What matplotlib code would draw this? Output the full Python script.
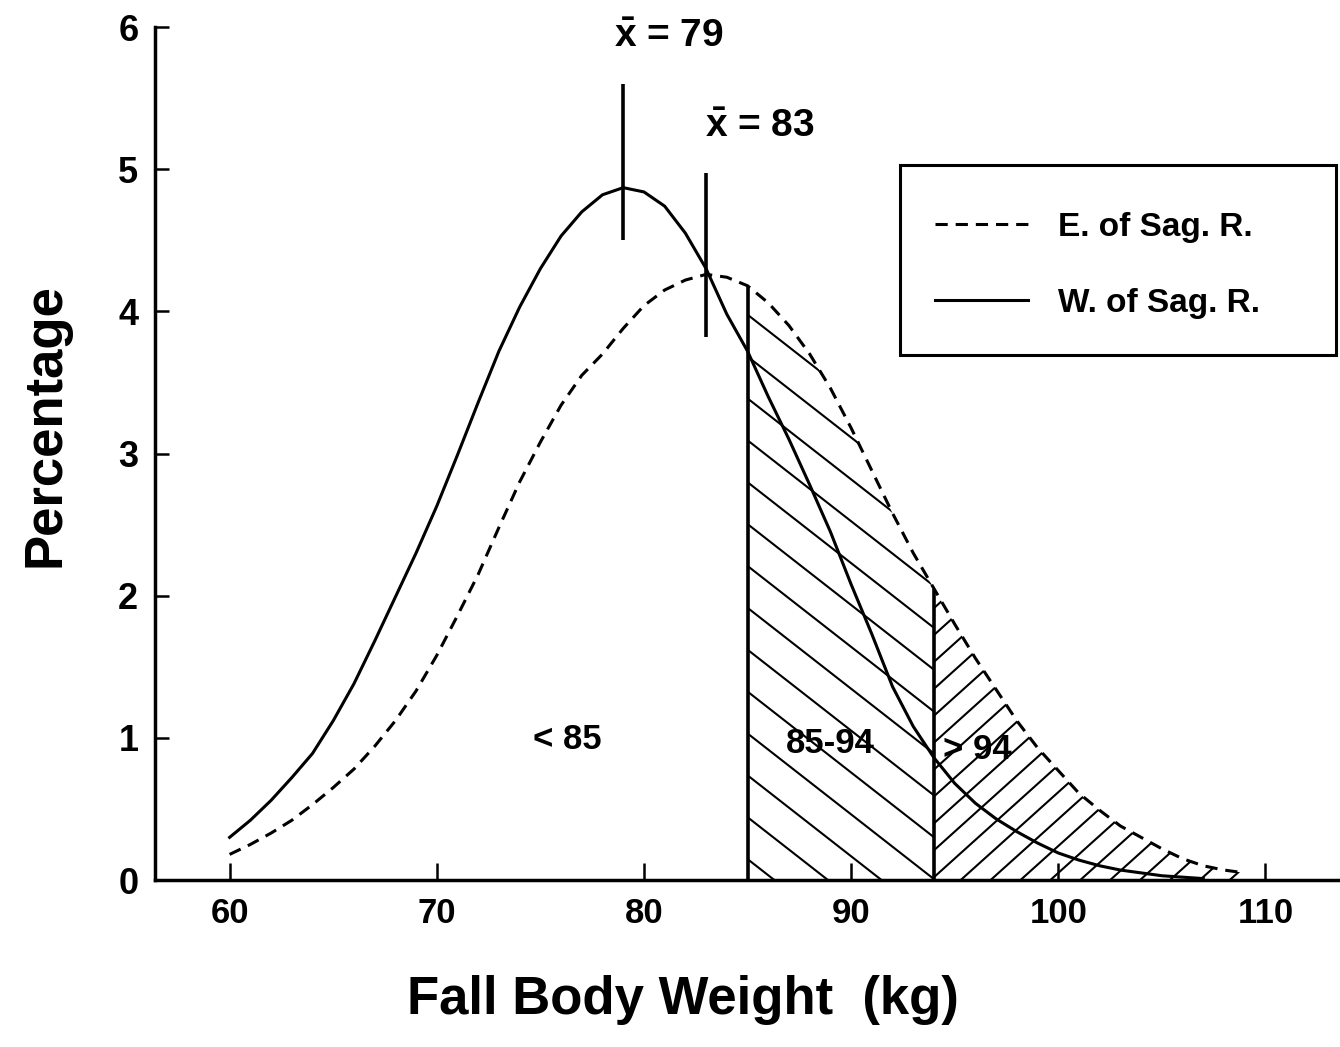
import matplotlib
matplotlib.use('Agg')
import matplotlib.pyplot as plt
import numpy as np
from matplotlib.patches import Rectangle

# Datos
weight_e = list(range(60, 110))
pct_e = [0.18, 0.25, 0.33, 0.42, 0.53, 0.65, 0.78, 0.94, 1.12, 1.33,
         1.58, 1.86, 2.15, 2.48, 2.80, 3.08, 3.34, 3.55, 3.70, 3.88,
         4.04, 4.15, 4.22, 4.26, 4.24, 4.18, 4.06, 3.90, 3.70, 3.46,
         3.18, 2.88, 2.58, 2.30, 2.05, 1.80, 1.56, 1.34, 1.12, 0.93,
         0.77, 0.61, 0.49, 0.38, 0.30, 0.22, 0.15, 0.10, 0.07, 0.05]

weight_w = list(range(60, 108))
pct_w = [0.30, 0.42, 0.56, 0.72, 0.89, 1.12, 1.38, 1.68, 1.99, 2.30,
         2.63, 2.99, 3.36, 3.72, 4.03, 4.30, 4.53, 4.70, 4.82, 4.87,
         4.84, 4.74, 4.55, 4.30, 3.98, 3.72, 3.40, 3.10, 2.78, 2.45,
         2.08, 1.73, 1.36, 1.08, 0.86, 0.68, 0.54, 0.43, 0.34, 0.26,
         0.19, 0.14, 0.10, 0.07, 0.05, 0.03, 0.02, 0.01]

labels = ['E. of Sag. R.', 'W. of Sag. R.']
means = [79, 83]
mean_marks = [(4.50, 5.60), (3.82, 4.97)]
mean_text_pos = [(81.2, 5.93), (85.6, 5.30)]
cuts = [85, 94]
region_labels = ['< 85', '85-94', '> 94']
region_pos = [(76.3, 0.99), (89.0, 0.96), (96.1, 0.92)]

plt.rcParams['font.family'] = ['Liberation Sans', 'DejaVu Sans']
plt.rcParams['font.weight'] = 'bold'
plt.rcParams['mathtext.fontset'] = 'custom'
plt.rcParams['mathtext.rm'] = 'Liberation Sans:bold'
plt.rcParams['mathtext.bf'] = 'Liberation Sans:bold'

fig = plt.figure(figsize=(13.4, 10.47), dpi=100)
ax = fig.add_axes([0.1157, 0.1595, 0.8843, 0.8147])
ax.set_xlim(56.4, 113.6)
ax.set_ylim(0, 6)

ax.plot(weight_e, pct_e, color='black', lw=2.2, ls=(0, (4, 2.6)), label=labels[0])
ax.plot(weight_w, pct_w, color='black', lw=2.2, ls='-', label=labels[1])

# lineas de corte
tops = [pct_e[weight_e.index(c)] for c in cuts]
ax.vlines(cuts, 0, tops, color='black', lw=2.6)

# rayado manual
ex = np.array(weight_e)
ey = np.array(pct_e)
mid = ax.fill_between(ex, 0, ey, where=(ex >= cuts[0]) & (ex <= cuts[1]),
                      facecolor='none', edgecolor='none')
tail = ax.fill_between(ex, 0, ey, where=ex >= cuts[1],
                       facecolor='none', edgecolor='none')


def hatch(poly, angle, step, lw):
    path = poly.get_paths()[0]
    pts = ax.transData.transform(path.vertices)
    a = np.radians(angle)
    d = np.array([np.cos(a), np.sin(a)])
    n = np.array([-np.sin(a), np.cos(a)])
    proj = pts @ n
    L = np.ptp(pts[:, 0]) + np.ptp(pts[:, 1])
    c0 = pts.mean(0)
    inv = ax.transData.inverted()
    for c in np.arange(proj.min() + step / 2, proj.max(), step):
        base = n * c
        t0 = (c0 - base) @ d
        seg = np.array([base + (t0 - L) * d, base + (t0 + L) * d])
        seg = inv.transform(seg)
        ln, = ax.plot(seg[:, 0], seg[:, 1], color='black', lw=lw)
        ln.set_clip_path(path, ax.transData)


hatch(mid, -38, 33, 1.5)
hatch(tail, 42, 20, 1.5)

# medias
for m, (y0, y1), (tx, ty) in zip(means, mean_marks, mean_text_pos):
    ax.vlines(m, y0, y1, color='black', lw=2.6)
    ax.text(tx, ty, r'$\bar{\mathrm{x}}$ = %d' % m, ha='center', va='center', fontsize=28)

for txt, (tx, ty) in zip(region_labels, region_pos):
    ax.text(tx, ty, txt, ha='center', va='center', fontsize=25)

ax.spines['top'].set_visible(False)
ax.spines['right'].set_visible(False)
ax.spines['left'].set_linewidth(2.5)
ax.spines['bottom'].set_linewidth(2.5)

ax.set_xticks([60, 70, 80, 90, 100, 110])
ax.set_yticks([0, 1, 2, 3, 4, 5, 6])
ax.tick_params(axis='x', direction='in', length=12, width=1.8, labelsize=25, pad=12)
ax.tick_params(axis='y', direction='in', length=10, width=1.8, labelsize=26, pad=12)

ax.set_ylabel('Percentage', fontsize=38, fontweight='bold', va='center')
ax.yaxis.set_label_coords(-0.0928, 0.533)
ax.set_xlabel('Fall Body Weight  (kg)', fontsize=38, fontweight='bold', va='center')
ax.xaxis.set_label_coords(0.4456, -0.1407)

leg = ax.legend(loc='upper left', bbox_to_anchor=(935 / 1340, 1 - 212 / 1047),
                bbox_transform=fig.transFigure, frameon=False, fontsize=24,
                handlelength=2.8, handletextpad=0.9, labelspacing=1.35,
                borderpad=0, borderaxespad=0)
fig.add_artist(Rectangle((900 / 1340, 1 - 355 / 1047), 436 / 1340, 190 / 1047,
                         transform=fig.transFigure, fill=False, lw=2.2,
                         edgecolor='black'))

fig.savefig('out.png', dpi=100)
